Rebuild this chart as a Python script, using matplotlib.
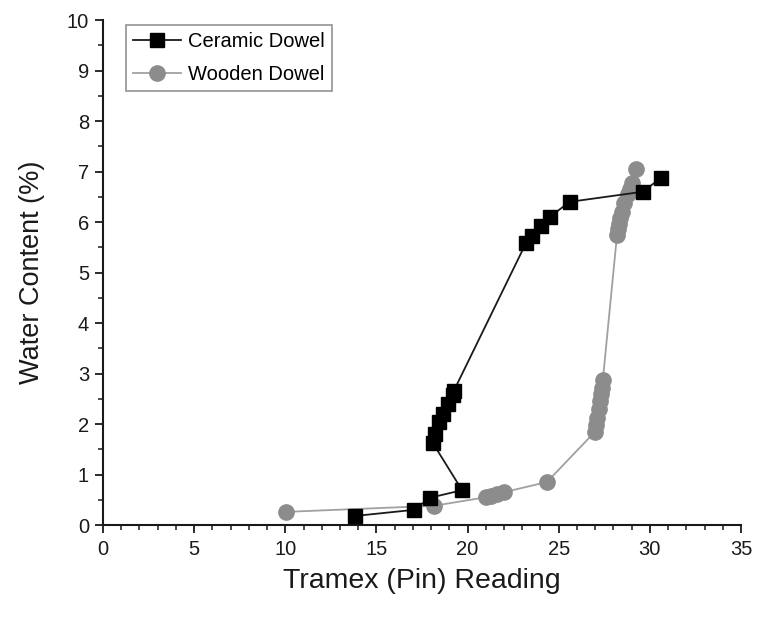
import matplotlib
matplotlib.use("Agg")
import matplotlib.pyplot as plt
from matplotlib.ticker import MultipleLocator

plt.rcParams['font.family'] = ['Liberation Sans', 'DejaVu Sans']

ceramic_x = [13.85, 17.05, 17.95, 19.7, 18.1, 18.2, 18.45, 18.65, 18.95, 19.2, 19.25,
             23.2, 23.55, 24.05, 24.5, 25.6, 29.6, 30.6]
ceramic_y = [0.18, 0.30, 0.54, 0.69, 1.62, 1.80, 2.05, 2.20, 2.40, 2.58, 2.66,
             5.58, 5.72, 5.92, 6.10, 6.40, 6.60, 6.87]

wooden_x = [10.05, 18.15, 21.0, 21.3, 21.6, 22.0, 24.35,
            27.0, 27.05, 27.1, 27.2, 27.25, 27.3, 27.35, 27.42,
            28.2, 28.25, 28.3, 28.35, 28.45, 28.6, 28.8, 28.9, 29.0, 29.25]
wooden_y = [0.26, 0.38, 0.55, 0.58, 0.61, 0.65, 0.85,
            1.85, 1.98, 2.12, 2.30, 2.45, 2.60, 2.72, 2.87,
            5.75, 5.86, 5.97, 6.08, 6.20, 6.38, 6.55, 6.65, 6.77, 7.05]

fig = plt.figure(figsize=(7.6, 6.28), dpi=100)
ax = fig.add_axes([0.1355, 0.164, 0.8395, 0.804])

ax.plot(ceramic_x, ceramic_y, color='#1a1a1a', lw=1.3, marker='s', ms=10,
        mfc='black', mec='black', label='Ceramic Dowel', zorder=3)
ax.plot(wooden_x, wooden_y, color='#a0a0a0', lw=1.3, marker='o', ms=11,
        mfc='#8c8c8c', mec='#8c8c8c', label='Wooden Dowel', zorder=2)

ax.set_xlim(0, 35)
ax.set_ylim(0, 10)
ax.xaxis.set_major_locator(MultipleLocator(5))
ax.xaxis.set_minor_locator(MultipleLocator(1))
ax.yaxis.set_major_locator(MultipleLocator(1))
ax.yaxis.set_minor_locator(MultipleLocator(0.5))

for s in ['top', 'right']:
    ax.spines[s].set_visible(False)
for s in ['left', 'bottom']:
    ax.spines[s].set_linewidth(1.5)
    ax.spines[s].set_color('#1a1a1a')

ax.tick_params(which='major', direction='out', length=6, width=1.3, labelsize=14.5,
               colors='#1a1a1a')
ax.tick_params(which='minor', direction='out', length=3.5, width=1.1, colors='#1a1a1a')
ax.tick_params(axis='x', pad=5)
ax.tick_params(axis='y', pad=4)

ax.set_xlabel('Tramex (Pin) Reading', fontsize=20.5, labelpad=6, color='#1a1a1a')
ax.set_ylabel('Water Content (%)', fontsize=19.5, labelpad=16, color='#1a1a1a')

leg = ax.legend(loc='upper left', bbox_to_anchor=(0.02, 1.01), fontsize=14.5,
                frameon=True, fancybox=False, handlelength=2.4, borderpad=0.35,
                labelspacing=0.7, handletextpad=0.35)
leg.get_frame().set_edgecolor('#777777')
leg.get_frame().set_linewidth(1.2)

fig.savefig('out.png', dpi=100)
